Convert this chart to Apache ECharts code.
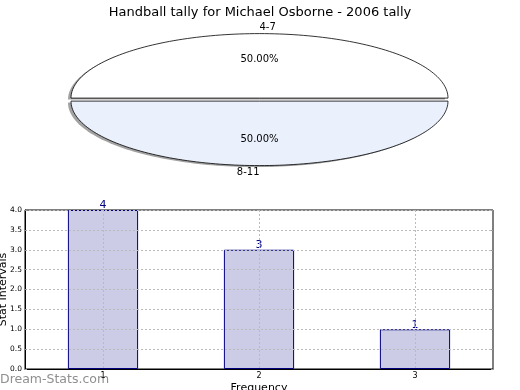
<!DOCTYPE html>
<html><head><meta charset="utf-8">
<script src="https://cdn.jsdelivr.net/npm/echarts@6/dist/echarts.min.js"></script>
<style>html,body{margin:0;padding:0;background:#fff}#c{width:520px;height:390px}</style>
</head><body><div id="c"></div>
<script>
var titleText = 'Handball tally for Michael Osborne - 2006 tally';
var pieNames = ['4-7', '8-11'];
var pieValues = [1, 1];
var pieColors = ['#ffffff', '#eaf0fc'];
var barCategories = ['1', '2', '3'];
var barValues = [4, 3, 1];
var yTicks = ['0.0','0.5','1.0','1.5','2.0','2.5','3.0','3.5','4.0'];
var xName = 'Frequency';
var yName = 'Stat Intervals';
var watermark = 'Dream-Stats.com';

var chart = echarts.init(document.getElementById('c'), null, {renderer: 'canvas'});
var total = pieValues.reduce(function(a, b){ return a + b; }, 0);
var CX = 259.5, CY = 99.6, RX = 188.5, RY = 64.5, EXP = 1.5;
var font = 'DejaVu Sans';

function renderPie(params, api) {
  var i = params.dataIndex;
  var cum = 0;
  for (var k = 0; k < i; k++) cum += pieValues[k];
  var v = api.value(0);
  var t1 = 2 * Math.PI * cum / total, t2 = 2 * Math.PI * (cum + v) / total;
  var tm = (t1 + t2) / 2;
  var ox = CX + EXP * Math.cos(tm), oy = CY - EXP * Math.sin(tm);
  var pts = [[ox, oy]], spts = [[ox - 3, oy + 1.5]];
  var n = 120;
  for (var j = 0; j <= n; j++) {
    var t = t1 + (t2 - t1) * j / n;
    var px = ox + RX * Math.cos(t), py = oy - RY * Math.sin(t);
    pts.push([px, py]);
    spts.push([px - 3, py + 1.5]);
  }
  var lx = Math.cos(tm);
  var pct = (100 * v / total).toFixed(2) + '%';
  return {
    type: 'group',
    children: [
      {type: 'polygon', shape: {points: spts}, style: {fill: 'rgba(70,70,70,0.5)'}},
      {type: 'polygon', shape: {points: pts},
       style: {fill: pieColors[i], stroke: '#000', lineWidth: 0.8}},
      {type: 'text', x: ox + 1.1 * RX * Math.cos(tm), y: oy - 1.1 * RY * Math.sin(tm),
       style: {text: pieNames[i], fill: '#000', font: '10px "' + font + '"',
               align: lx > 0 ? 'left' : 'right', verticalAlign: 'middle'}},
      {type: 'text', x: ox + 0.6 * RX * Math.cos(tm), y: oy - 0.6 * RY * Math.sin(tm),
       style: {text: pct, fill: '#000', font: '10px "' + font + '"',
               align: 'center', verticalAlign: 'middle'}}
    ]
  };
}

var gridLine = {show: true, lineStyle: {color: '#bbbbbb', type: [2, 2], width: 1}};

chart.setOption({
  animation: false,
  textStyle: {fontFamily: font},
  title: {text: titleText, left: 'center', top: 1,
          textStyle: {fontSize: 13, fontWeight: 'normal', color: '#000', fontFamily: font}},
  grid: {left: 25, right: 27, top: 210, bottom: 21, show: true, borderColor: '#000', borderWidth: 1,
         containLabel: false, outerBoundsMode: 'none'},
  xAxis: {type: 'category', data: barCategories, z: 5,
          name: xName, nameLocation: 'middle', nameGap: 14,
          nameTextStyle: {fontSize: 11, color: '#000'},
          axisLine: {show: true, lineStyle: {color: '#000'}},
          axisTick: {show: false},
          axisLabel: {fontSize: 8, color: '#000', margin: 3},
          splitLine: Object.assign({alignWithLabel: true}, gridLine)},
  yAxis: [{type: 'value', min: 0, max: 4, interval: 0.5, z: 5,
          name: yName, nameLocation: 'middle', nameGap: 16, nameMoveOverlap: false,
          nameTextStyle: {fontSize: 11, color: '#000'},
          axisLine: {show: true, lineStyle: {color: '#000'}},
          axisTick: {show: true, inside: true, length: 2, lineStyle: {color: '#999'}},
          axisLabel: {fontSize: 7.5, color: '#000', margin: 3,
                      formatter: function(v){ return yTicks[Math.round(v * 2)]; }},
          splitLine: gridLine},
          {type: 'value', min: 0, max: 4, interval: 0.5, position: 'right', z: 5,
          axisLine: {show: false}, axisLabel: {show: false}, splitLine: {show: false},
          axisTick: {show: true, inside: true, length: 2, lineStyle: {color: '#999'}}}],
  graphic: [{type: 'text', left: 0, top: 373,
             style: {text: watermark, fill: '#8f8f8f', font: '12.5px "' + font + '"'}}],
  series: [
    {type: 'custom', coordinateSystem: 'none', renderItem: renderPie,
     data: pieValues.map(function(v, i){ return {name: pieNames[i], value: [v]}; })},
    {type: 'bar', data: barValues, barWidth: '45%', xAxisIndex: 0, yAxisIndex: 0,
     itemStyle: {color: '#ccccE6', borderColor: '#000080', borderWidth: 1},
     label: {show: true, position: 'top', distance: -1, color: '#000080', fontSize: 11, fontFamily: font}}
  ]
});
</script></body></html>
